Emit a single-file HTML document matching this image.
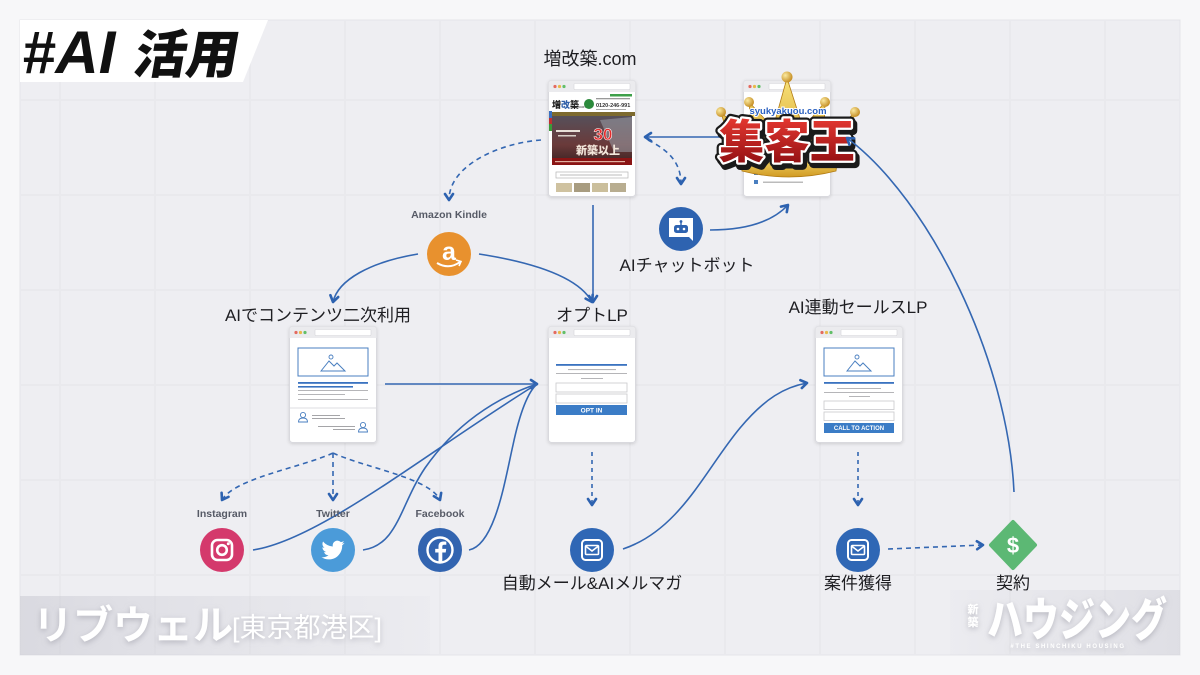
<!DOCTYPE html>
<html><head><meta charset="utf-8"><style>
html,body{margin:0;padding:0;background:#f7f7f9;width:1200px;height:675px;overflow:hidden}
svg{display:block}
</style></head><body>
<svg xmlns="http://www.w3.org/2000/svg" xmlns:xlink="http://www.w3.org/1999/xlink" width="1200" height="675" viewBox="0 0 1200 675" font-family="'Liberation Sans','Noto Sans CJK JP',sans-serif">
<defs>
  <marker id="ar" viewBox="0 0 12 12" refX="9" refY="6" markerWidth="12" markerHeight="12" markerUnits="userSpaceOnUse" orient="auto">
    <path d="M3,2 L9,6 L3,10" fill="none" stroke="#2d62b0" stroke-width="2.6" stroke-linecap="round" stroke-linejoin="round"/>
  </marker>
  <filter id="sh" x="-10%" y="-10%" width="120%" height="125%">
    <feDropShadow dx="0" dy="1" stdDeviation="1.5" flood-color="#000" flood-opacity="0.14"/>
  </filter>
  <filter id="tsh" x="-10%" y="-20%" width="120%" height="150%">
    <feDropShadow dx="0" dy="2" stdDeviation="3" flood-color="#9a9aa4" flood-opacity="0.6"/>
  </filter>
  <linearGradient id="band" x1="0" y1="0" x2="1" y2="0">
    <stop offset="0" stop-color="#c9c9d2" stop-opacity="0.55"/>
    <stop offset="1" stop-color="#d5d5dc" stop-opacity="0.1"/>
  </linearGradient>
  <linearGradient id="band2" x1="0" y1="0" x2="1" y2="0">
    <stop offset="0" stop-color="#d5d5dc" stop-opacity="0.1"/>
    <stop offset="1" stop-color="#cfcfd7" stop-opacity="0.5"/>
  </linearGradient>
  <linearGradient id="photo" x1="0" y1="0" x2="0" y2="1">
    <stop offset="0" stop-color="#56505a"/>
    <stop offset="0.6" stop-color="#6a3a3a"/>
    <stop offset="1" stop-color="#3a2222"/>
  </linearGradient>
  <linearGradient id="gold" x1="0" y1="0" x2="0" y2="1">
    <stop offset="0" stop-color="#f8e27a"/>
    <stop offset="1" stop-color="#d19a22"/>
  </linearGradient>
  <radialGradient id="ball" cx="0.35" cy="0.35" r="0.7">
    <stop offset="0" stop-color="#fbeaa0"/>
    <stop offset="1" stop-color="#c38a1e"/>
  </radialGradient>
  <linearGradient id="red" x1="0" y1="0" x2="0" y2="1">
    <stop offset="0" stop-color="#e83a32"/>
    <stop offset="1" stop-color="#8c0c10"/>
  </linearGradient>
  <g id="frame">
    <rect x="0.5" y="0.5" width="87" height="116" rx="3" fill="#fff" stroke="#d9d9de"/>
    <path d="M0.5,3.5 a3,3 0 0 1 3,-3 h81 a3,3 0 0 1 3,3 v8.5 h-87z" fill="#ebebee"/>
    <circle cx="7" cy="6.5" r="1.6" fill="#e46a5e"/>
    <circle cx="11.5" cy="6.5" r="1.6" fill="#e9b949"/>
    <circle cx="16" cy="6.5" r="1.6" fill="#62bf68"/>
    <rect x="26" y="3.5" width="56" height="6" rx="1" fill="#fff" stroke="#d6d6d9" stroke-width="0.6"/>
  </g>
</defs>

<!-- background -->
<rect width="1200" height="675" fill="#f7f7f9"/>
<rect x="20" y="20" width="1160" height="635" fill="#eeeef2" stroke="#e4e4e9" stroke-width="1"/>
<g stroke="#e9e9ed" stroke-width="2">
  <line x1="60" y1="21" x2="60" y2="654"/><line x1="155" y1="21" x2="155" y2="654"/>
  <line x1="250" y1="21" x2="250" y2="654"/><line x1="345" y1="21" x2="345" y2="654"/>
  <line x1="440" y1="21" x2="440" y2="654"/><line x1="535" y1="21" x2="535" y2="654"/>
  <line x1="630" y1="21" x2="630" y2="654"/><line x1="725" y1="21" x2="725" y2="654"/>
  <line x1="820" y1="21" x2="820" y2="654"/><line x1="915" y1="21" x2="915" y2="654"/>
  <line x1="1010" y1="21" x2="1010" y2="654"/><line x1="1105" y1="21" x2="1105" y2="654"/>
  <line x1="21" y1="100" x2="1179" y2="100"/><line x1="21" y1="195" x2="1179" y2="195"/>
  <line x1="21" y1="290" x2="1179" y2="290"/><line x1="21" y1="385" x2="1179" y2="385"/>
  <line x1="21" y1="480" x2="1179" y2="480"/><line x1="21" y1="575" x2="1179" y2="575"/>
</g>

<!-- badge -->
<polygon points="20,20 268,20 243,82 20,82" fill="#ffffff"/>
<text x="22" y="73" font-family="'Liberation Sans',sans-serif" font-size="60" font-weight="bold" font-style="italic" fill="#111">#AI</text>
<text x="0" y="0" font-size="52" font-weight="900" fill="#111" transform="translate(132,73) skewX(-10)">活用</text>

<!-- connectors (under) -->
<g fill="none" stroke="#3467b2" stroke-width="1.6">
  <path d="M541,140 C500,143 449,165 449,200" stroke-dasharray="5 4" marker-end="url(#ar)"/>
  <path d="M648,140 C668,150 681,162 681,184" stroke-dasharray="5 4" marker-end="url(#ar)"/>
  <path d="M710,230 C745,230 772,222 788,205" marker-end="url(#ar)"/>
  <path d="M418,254 C370,262 338,280 333,302" marker-end="url(#ar)"/>
  <path d="M479,254 C530,262 578,276 592,302" marker-end="url(#ar)"/>
  <path d="M593,205 L593,302" marker-end="url(#ar)"/>
  <path d="M385,384 L537,384" marker-end="url(#ar)"/>
  <path d="M253,550 C320,540 430,450 537,384"/>
  <path d="M363,550 C398,545 400,505 425,468 C455,425 495,398 537,384"/>
  <path d="M469,550 C495,545 505,480 513,445 C520,412 528,392 537,384"/>
  <path d="M333,453 C300,468 235,478 222,500" stroke-dasharray="5 4" marker-end="url(#ar)"/>
  <path d="M333,453 L333,500" stroke-dasharray="5 4" marker-end="url(#ar)"/>
  <path d="M333,453 C366,468 430,478 440,500" stroke-dasharray="5 4" marker-end="url(#ar)"/>
  <path d="M592,452 L592,505" stroke-dasharray="4 4" marker-end="url(#ar)"/>
  <path d="M623,549 C680,530 705,470 740,428 C765,398 785,387 807,383" marker-end="url(#ar)"/>
  <path d="M858,452 L858,505" stroke-dasharray="4 4" marker-end="url(#ar)"/>
  <path d="M888,549 L983,545" stroke-dasharray="5 4" marker-end="url(#ar)"/>
  <path d="M722,137 L645,137" marker-end="url(#ar)"/>
</g>

<!-- 増改築 browser -->
<use xlink:href="#frame" x="548" y="80" filter="url(#sh)"/>
<g transform="translate(548,80)">
  <rect x="62" y="14" width="22" height="2.5" fill="#3ea04a"/>
  <text x="4" y="28" font-size="9" font-weight="900" fill="#222">増<tspan fill="#2f5fa8">改</tspan>築</text>
  <text x="30" y="28" font-size="4" fill="#333">.com</text>
  <circle cx="41" cy="24" r="5" fill="#2c8a3c"/>
  <rect x="48" y="18" width="34" height="1.3" fill="#999"/>
  <text x="48" y="27" font-size="5.5" font-weight="bold" fill="#333">0120-246-991</text>
  <rect x="48" y="29" width="30" height="1" fill="#aaa"/>
  <rect x="1" y="32" width="86" height="4" fill="#7d6a2e"/>
  <rect x="1" y="31" width="3" height="7" fill="#3a6fc0"/>
  <rect x="1" y="38" width="3" height="6" fill="#c03030"/>
  <rect x="1" y="44" width="3" height="7" fill="#3a9a3a"/>
  <rect x="4" y="36" width="80" height="48" fill="url(#photo)"/>
  <polygon points="52,40 84,37 84,72 66,72" fill="#9aa0aa" opacity="0.55"/>
  <rect x="8" y="50" width="24" height="2" fill="#e8e0d8"/>
  <rect x="10" y="55" width="18" height="1.5" fill="#d8d0c8"/>
  <text x="55" y="60" font-size="17" font-weight="900" fill="#e52b2b" stroke="#fff" stroke-width="0.5" text-anchor="middle">30</text>
  <text x="50" y="74" font-size="11" font-weight="900" fill="#f3e6da" text-anchor="middle">新築以上</text>
  <rect x="4" y="78" width="80" height="7" fill="#8a1414"/>
  <rect x="7" y="81" width="70" height="1.2" fill="#e0b0a0"/>
  <rect x="8" y="92" width="72" height="6" fill="#fff" stroke="#b5b5b5" stroke-width="0.7"/>
  <rect x="12" y="94.5" width="62" height="1" fill="#bbb"/>
  <rect x="8" y="103" width="16" height="9" fill="#cfc2a0"/>
  <rect x="26" y="103" width="16" height="9" fill="#a89c80"/>
  <rect x="44" y="103" width="16" height="9" fill="#cbbf9c"/>
  <rect x="62" y="103" width="16" height="9" fill="#b8ad90"/>
</g>

<!-- 集客王 browser -->
<use xlink:href="#frame" x="743" y="80" filter="url(#sh)"/>
<g transform="translate(743,80)">
  <rect x="11" y="91" width="4" height="4" fill="#4a7fc0"/>
  <rect x="20" y="92.5" width="40" height="1.5" fill="#bbb"/>
  <rect x="11" y="100" width="4" height="4" fill="#4a7fc0"/>
  <rect x="20" y="101.5" width="40" height="1.5" fill="#bbb"/>
</g>
<!-- crown -->
<polygon points="738,165 721,113 752,137 749,102 773,128 787,78 803,128 825,102 824,137 855,113 840,165" fill="url(#gold)" stroke="#b27c14" stroke-width="0.8"/>
<path d="M740,154 Q789,168 838,154 L836,171 Q789,183 742,171 Z" fill="url(#gold)" stroke="#b27c14" stroke-width="0.8"/>
<circle cx="787" cy="77" r="5.5" fill="url(#ball)"/>
<circle cx="749" cy="102" r="5" fill="url(#ball)"/>
<circle cx="825" cy="102" r="5" fill="url(#ball)"/>
<circle cx="721" cy="112" r="5" fill="url(#ball)"/>
<circle cx="855" cy="112" r="5" fill="url(#ball)"/>
<text x="788" y="114" font-family="'Liberation Sans',sans-serif" font-size="9.5" font-weight="bold" fill="#2a60c0" stroke="#fff" stroke-width="2" paint-order="stroke" text-anchor="middle">syukyakuou.com</text>
<g font-size="46" font-weight="900" text-anchor="middle">
  <text x="789" y="161" fill="#1a1a1a" stroke="#1a1a1a" stroke-width="9" stroke-linejoin="round" textLength="136" lengthAdjust="spacingAndGlyphs">集客王</text>
  <text x="787" y="158" fill="#1a1a1a" stroke="#1a1a1a" stroke-width="9" stroke-linejoin="round" textLength="136" lengthAdjust="spacingAndGlyphs">集客王</text>
  <text x="787" y="158" fill="#fff" stroke="#fff" stroke-width="4.5" stroke-linejoin="round" textLength="136" lengthAdjust="spacingAndGlyphs">集客王</text>
  <text x="787" y="158" fill="url(#red)" textLength="136" lengthAdjust="spacingAndGlyphs">集客王</text>
</g>
<path d="M1014,492 C1008,360 930,200 847,138" fill="none" stroke="#3467b2" stroke-width="1.6" marker-end="url(#ar)"/>

<!-- LP browsers -->
<use xlink:href="#frame" x="289" y="326" filter="url(#sh)"/>
<g transform="translate(289,326)">
  <rect x="9" y="22" width="70" height="28" fill="#fff" stroke="#4a7fc0" stroke-width="1"/>
  <path d="M32,45 L40,35 L45,40 L48,37 L56,45 Z" fill="none" stroke="#4a7fc0" stroke-width="1"/>
  <circle cx="42" cy="31" r="2" fill="none" stroke="#4a7fc0" stroke-width="0.9"/>
  <rect x="9" y="56" width="70" height="1.8" fill="#3a73c0"/>
  <rect x="9" y="60" width="55" height="1.6" fill="#3a73c0"/>
  <rect x="9" y="64" width="70" height="1" fill="#b5b5b8"/>
  <rect x="9" y="68" width="47" height="1" fill="#b5b5b8"/>
  <rect x="9" y="73" width="70" height="1" fill="#b5b5b8"/>
  <line x1="1" y1="82" x2="87" y2="82" stroke="#dedee2"/>
  <g fill="none" stroke="#4a7fc0" stroke-width="0.9">
    <circle cx="14" cy="89" r="2.6"/><path d="M9.5,96 q0,-4 4.5,-4 q4.5,0 4.5,4 z"/>
    <circle cx="74" cy="99" r="2.6"/><path d="M69.5,106 q0,-4 4.5,-4 q4.5,0 4.5,4 z"/>
  </g>
  <rect x="23" y="89" width="28" height="1" fill="#a5a5a8"/>
  <rect x="23" y="92" width="33" height="1" fill="#a5a5a8"/>
  <rect x="29" y="100" width="37" height="1" fill="#a5a5a8"/>
  <rect x="44" y="103" width="22" height="1" fill="#a5a5a8"/>
</g>

<use xlink:href="#frame" x="548" y="326" filter="url(#sh)"/>
<g transform="translate(548,326)">
  <rect x="8" y="38" width="71" height="1.8" fill="#3a73c0"/>
  <rect x="20" y="43" width="48" height="1.1" fill="#b5b5b8"/>
  <rect x="8" y="47" width="71" height="1" fill="#b5b5b8"/>
  <rect x="33" y="52" width="22" height="1" fill="#b5b5b8"/>
  <rect x="8" y="57" width="71" height="9" fill="#fff" stroke="#c9c9cc" stroke-width="0.8"/>
  <rect x="8" y="68" width="71" height="9" fill="#fff" stroke="#c9c9cc" stroke-width="0.8"/>
  <rect x="8" y="79" width="71" height="10" fill="#3b7cc6"/>
  <text x="43.5" y="86.3" font-family="'Liberation Sans',sans-serif" font-size="6.5" font-weight="bold" fill="#fff" text-anchor="middle">OPT IN</text>
</g>

<use xlink:href="#frame" x="815" y="326" filter="url(#sh)"/>
<g transform="translate(815,326)">
  <rect x="9" y="22" width="70" height="28" fill="#fff" stroke="#4a7fc0" stroke-width="1"/>
  <path d="M32,45 L40,35 L45,40 L48,37 L56,45 Z" fill="none" stroke="#4a7fc0" stroke-width="1"/>
  <circle cx="42" cy="31" r="2" fill="none" stroke="#4a7fc0" stroke-width="0.9"/>
  <rect x="9" y="56" width="70" height="1.8" fill="#3a73c0"/>
  <rect x="22" y="62" width="44" height="1" fill="#b5b5b8"/>
  <rect x="9" y="66" width="70" height="1" fill="#b5b5b8"/>
  <rect x="34" y="70" width="21" height="1" fill="#b5b5b8"/>
  <rect x="9" y="75" width="70" height="8.5" fill="#fff" stroke="#c9c9cc" stroke-width="0.8"/>
  <rect x="9" y="86" width="70" height="8.5" fill="#fff" stroke="#c9c9cc" stroke-width="0.8"/>
  <rect x="9" y="97" width="70" height="10" fill="#3b7cc6"/>
  <text x="44" y="104.2" font-family="'Liberation Sans',sans-serif" font-size="6" font-weight="bold" fill="#fff" text-anchor="middle">CALL TO ACTION</text>
</g>

<!-- icons -->
<circle cx="449" cy="254" r="22" fill="#e8912e"/>
<text x="449" y="260" font-family="'Liberation Sans',sans-serif" font-size="25" font-weight="bold" fill="#fff" text-anchor="middle">a</text>
<path d="M437,263 Q449,270 460,262" fill="none" stroke="#fff" stroke-width="2"/>
<path d="M456,260 L461,261.5 L459,266" fill="none" stroke="#fff" stroke-width="1.6"/>

<circle cx="681" cy="229" r="22" fill="#2e63b0"/>
<path d="M669,218 h24 v23 l-4,-4 h-20 z" fill="#fff"/>
<line x1="681" y1="222" x2="681" y2="225" stroke="#2e63b0" stroke-width="1.4"/>
<circle cx="681" cy="221.5" r="1.4" fill="#2e63b0"/>
<rect x="674" y="225" width="14" height="8" rx="2.5" fill="#2e63b0"/>
<circle cx="678" cy="229" r="1.3" fill="#fff"/>
<circle cx="684" cy="229" r="1.3" fill="#fff"/>

<circle cx="222" cy="550" r="22" fill="#d4396c"/>
<rect x="212" y="540" width="20" height="20" rx="5.5" fill="none" stroke="#fff" stroke-width="2.6"/>
<circle cx="222" cy="550" r="4.8" fill="none" stroke="#fff" stroke-width="2.6"/>
<circle cx="228.3" cy="543.7" r="1.5" fill="#fff"/>

<circle cx="333" cy="550" r="22" fill="#4b9bd9"/>
<path transform="translate(321.5,538.5) scale(0.96)" fill="#fff" d="M23.953 4.57a10 10 0 01-2.825.775 4.958 4.958 0 002.163-2.723c-.951.555-2.005.959-3.127 1.184a4.920 4.920 0 00-8.384 4.482C7.690 8.095 4.067 6.130 1.640 3.162a4.822 4.822 0 00-.666 2.475c0 1.710.870 3.213 2.188 4.096a4.904 4.904 0 01-2.228-.616v.06a4.923 4.923 0 003.946 4.827 4.996 4.996 0 01-2.212.085 4.936 4.936 0 004.604 3.417 9.867 9.867 0 01-6.102 2.105c-.39 0-.779-.023-1.170-.067a13.995 13.995 0 007.557 2.209c9.053 0 13.998-7.496 13.998-13.985 0-.21 0-.42-.015-.63A9.935 9.935 0 0024 4.590z"/>

<circle cx="440" cy="550" r="22" fill="#3264b0"/>
<circle cx="440" cy="550" r="12.5" fill="none" stroke="#fff" stroke-width="2.4"/>
<path d="M442.3,562.5 v-10 h3.4 l0.5,-3.6 h-3.9 v-2.3 c0,-1 0.4,-1.8 1.9,-1.8 h2.1 v-3.1 c-0.4,-0.1 -1.7,-0.2 -3,-0.2 c-3,0 -4.8,1.8 -4.8,5 v2.4 h-3.3 v3.6 h3.3 v10 z" fill="#fff"/>

<g transform="translate(592,550)">
  <circle r="22" fill="#2f67b5"/>
  <rect x="-10" y="-10" width="20" height="20" rx="3.5" fill="none" stroke="#fff" stroke-width="2"/>
  <rect x="-6.5" y="-4.5" width="13" height="9" rx="1" fill="none" stroke="#fff" stroke-width="1.6"/>
  <path d="M-6.5,-4 L0,1 L6.5,-4" fill="none" stroke="#fff" stroke-width="1.6"/>
</g>
<g transform="translate(858,550)">
  <circle r="22" fill="#2f67b5"/>
  <rect x="-10" y="-10" width="20" height="20" rx="3.5" fill="none" stroke="#fff" stroke-width="2"/>
  <rect x="-6.5" y="-4.5" width="13" height="9" rx="1" fill="none" stroke="#fff" stroke-width="1.6"/>
  <path d="M-6.5,-4 L0,1 L6.5,-4" fill="none" stroke="#fff" stroke-width="1.6"/>
</g>

<path d="M1013,522 L1035,545 L1013,568 L991,545 Z" fill="#5cb874" stroke="#5cb874" stroke-width="4" stroke-linejoin="round"/>
<text x="1013" y="553" font-family="'Liberation Sans',sans-serif" font-size="22" font-weight="bold" fill="#fff" text-anchor="middle">$</text>

<!-- labels -->
<g fill="#1e1e22" text-anchor="middle">
  <text x="590" y="65" font-size="18">増改築.com</text>
  <text x="687" y="271" font-size="17">AIチャットボット</text>
  <text x="318" y="321" font-size="17">AIでコンテンツ二次利用</text>
  <text x="592" y="321" font-size="17">オプトLP</text>
  <text x="858" y="313" font-size="17">AI連動セールスLP</text>
  <text x="592" y="589" font-size="17">自動メール&amp;AIメルマガ</text>
  <text x="858" y="589" font-size="17">案件獲得</text>
  <text x="1013" y="589" font-size="17">契約</text>
</g>
<g fill="#565a66" text-anchor="middle" font-family="'Liberation Sans',sans-serif" font-size="10.5" font-weight="bold">
  <text x="449" y="218">Amazon Kindle</text>
  <text x="222" y="517">Instagram</text>
  <text x="333" y="517">Twitter</text>
  <text x="440" y="517">Facebook</text>
</g>

<!-- bottom left band -->
<rect x="20" y="596" width="410" height="59" fill="url(#band)"/>
<g fill="#ffffff" filter="url(#tsh)">
  <text x="33" y="639" font-size="40" font-weight="bold">リブウェル</text>
  <text x="232" y="637" font-size="27">[東京都港区]</text>
</g>

<!-- bottom right logo -->
<rect x="950" y="590" width="230" height="65" fill="url(#band2)"/>
<g fill="#ffffff" filter="url(#tsh)">
  <text x="973" y="613" font-size="11" font-weight="900" text-anchor="middle">新</text>
  <text x="973" y="626" font-size="11" font-weight="900" text-anchor="middle">築</text>
  <text x="987" y="636" font-size="46" font-weight="900" textLength="180" lengthAdjust="spacingAndGlyphs">ハウジング</text>
  <text x="1068" y="648" font-family="'Liberation Sans',sans-serif" font-size="6" font-weight="bold" letter-spacing="1.6" text-anchor="middle">#THE SHINCHIKU HOUSING</text>
</g>
</svg>
</body></html>
